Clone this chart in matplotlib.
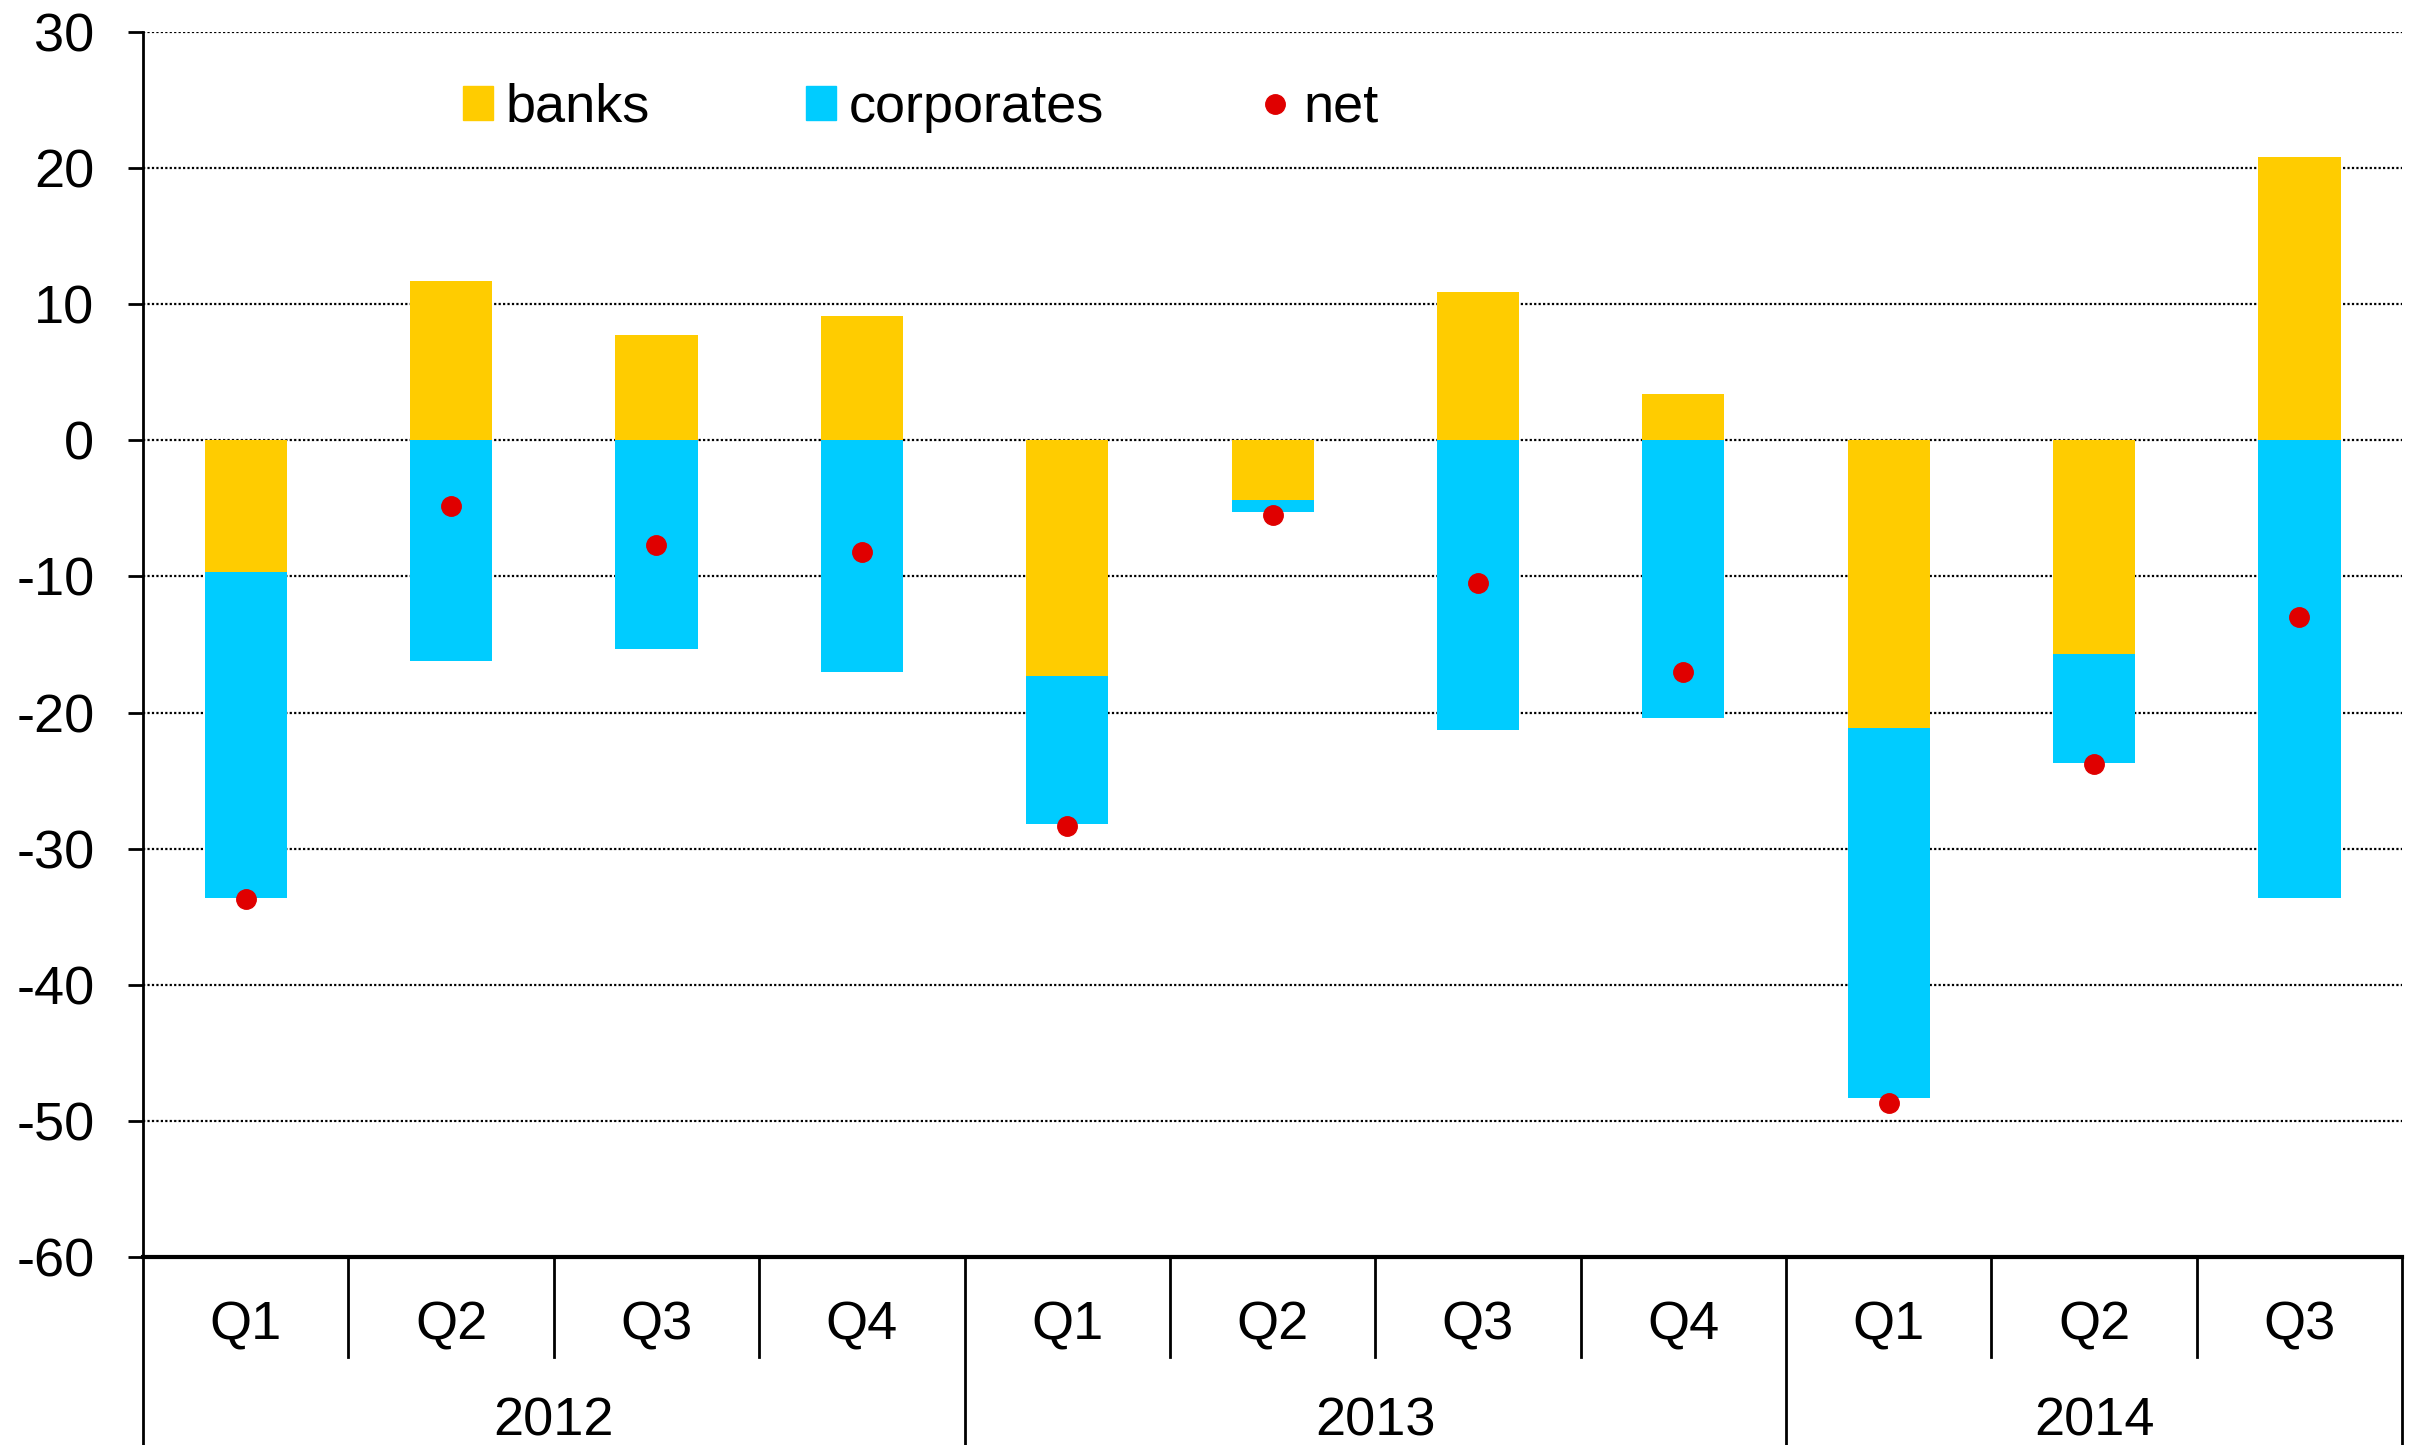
import matplotlib
matplotlib.use("Agg")
import matplotlib.pyplot as plt
from matplotlib.patches import Patch
from matplotlib.lines import Line2D
from matplotlib.transforms import blended_transform_factory

plt.rcParams['font.family'] = ['Liberation Sans', 'DejaVu Sans']
plt.rcParams['axes.unicode_minus'] = False

quarters = ["Q1", "Q2", "Q3", "Q4", "Q1", "Q2", "Q3", "Q4", "Q1", "Q2", "Q3"]
years = ["2012", "2013", "2014"]
year_counts = [4, 4, 3]
banks = [-9.7, 11.7, 7.7, 9.1, -17.3, -4.4, 10.9, 3.4, -21.1, -15.7, 20.8]
corporates = [-23.9, -16.2, -15.3, -17.0, -10.9, -0.9, -21.3, -20.4, -27.2, -8.0, -33.6]
net = [-33.7, -4.8, -7.7, -8.2, -28.3, -5.5, -10.5, -17.0, -48.7, -23.8, -13.0]

c_banks = "#FFCC00"
c_corp = "#00CCFF"
c_net = "#E00000"
FS = 39

fig = plt.figure(figsize=(24.21, 14.45), dpi=100)
ax = fig.add_axes([0.0591, 0.1301, 0.9922 - 0.0591, 0.9779 - 0.1301])

x = list(range(len(quarters)))
corp_bottom = [b if b < 0 else 0 for b in banks]
ax.bar(x, banks, width=0.4, color=c_banks, zorder=2)
ax.bar(x, corporates, width=0.4, bottom=corp_bottom, color=c_corp, zorder=2)
ax.plot(x, net, linestyle="none", marker="o", markersize=14, color=c_net, zorder=3)

ax.set_xlim(-0.5, len(quarters) - 0.5)
ax.set_ylim(-60, 30)
ax.set_yticks(range(-60, 31, 10))
ax.tick_params(axis="y", labelsize=FS, length=11, width=2, pad=24, direction="out")
ax.set_xticks([])
for y in range(-50, 31, 10):
    ax.axhline(y, color="black", linestyle=(0, (1, 1.0)), linewidth=1.6, zorder=1)

for s in ["top", "right"]:
    ax.spines[s].set_visible(False)
ax.spines["left"].set_linewidth(2)
ax.spines["bottom"].set_linewidth(3)

# category axis
tr = blended_transform_factory(ax.transData, fig.transFigure)
ybase = 1 - 1257 / 1445
yq_end = 1 - 1357 / 1445
for i, q in enumerate(quarters):
    ax.text(i, 1 - 1326 / 1445, q, transform=tr, ha="center", va="center", fontsize=FS)
bounds = [-0.5]
pos = -0.5
for n in year_counts:
    pos += n
    bounds.append(pos)
for b in [i - 0.5 for i in range(len(quarters) + 1)]:
    if b in bounds:
        ax.add_line(Line2D([b, b], [ybase, 0], transform=tr, color="black", lw=2, clip_on=False))
    else:
        ax.add_line(Line2D([b, b], [ybase, yq_end], transform=tr, color="black", lw=2, clip_on=False))
for j, yr in enumerate(years):
    c = (bounds[j] + bounds[j + 1]) / 2
    ax.text(c, 1 - 1422 / 1445, yr, transform=tr, ha="center", va="center", fontsize=FS)

handles = [Patch(color=c_banks), Patch(color=c_corp),
           Line2D([], [], linestyle="none", marker="o", markersize=14, color=c_net)]
ax.legend(handles, ["banks", "corporates", "net"], ncol=3, loc="center left",
          bbox_to_anchor=(0.1417, 0.938), frameon=False, fontsize=FS,
          handlelength=0.55, handleheight=0.6, handletextpad=0.24,
          columnspacing=2.88, borderpad=0, borderaxespad=0)

fig.savefig("out.png", dpi=100)
